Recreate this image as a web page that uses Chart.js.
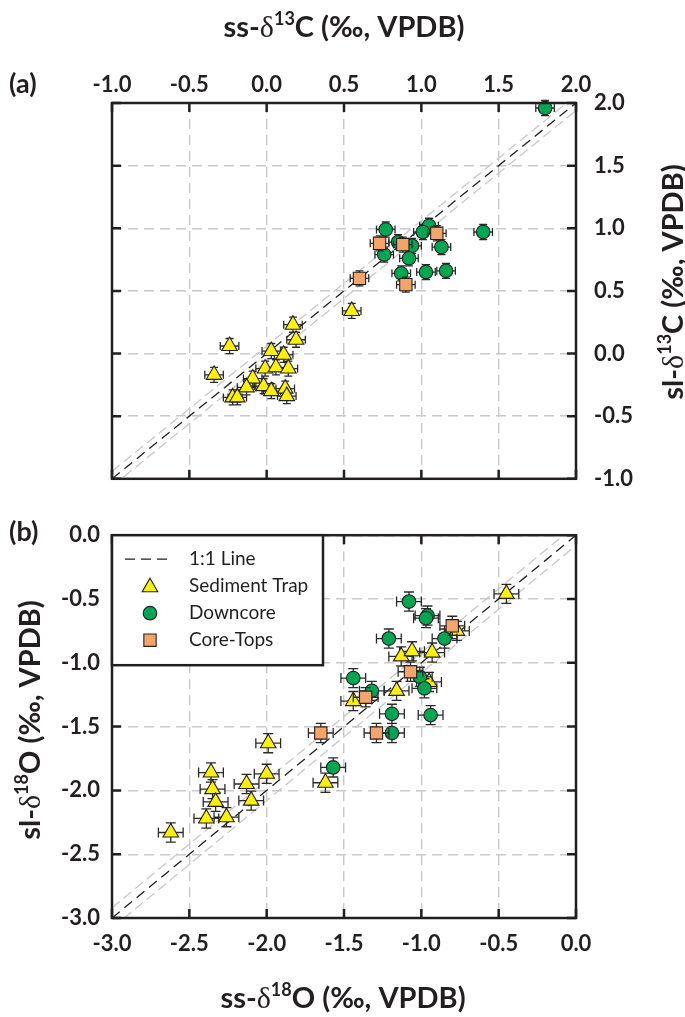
<!DOCTYPE html>
<html><head><meta charset="utf-8">
<script src="https://cdn.jsdelivr.net/npm/chart.js@4/dist/chart.umd.min.js"></script>
<style>
html,body{margin:0;padding:0;background:#fff;}
body{width:685px;height:1017px;position:relative;overflow:hidden;}
canvas{position:absolute;left:0;}
#ca{top:0;} #cb{top:510px;}
</style></head><body>
<canvas id="ca" width="685" height="510"></canvas>
<canvas id="cb" width="685" height="507"></canvas>
<script>
// ---------------- DATA ----------------
// Panel (a): carbon isotopes
const trapA_x = [0.17, 0.19, -0.24, 0.03, 0.11, -0.34, -0.01, 0.06, 0.14, -0.09, -0.13, -0.02, 0.03, 0.12, 0.13, -0.22, -0.19, 0.55];
const trapA_y = [0.23, 0.11, 0.06, 0.02, -0.01, -0.17, -0.12, -0.11, -0.12, -0.20, -0.27, -0.26, -0.30, -0.28, -0.34, -0.35, -0.35, 0.34];
const downA_x = [0.77, 0.76, 0.85, 0.94, 0.92, 0.87, 1.03, 1.16, 1.13, 1.05, 1.01, 1.40, 1.80];
const downA_y = [0.99, 0.79, 0.89, 0.86, 0.76, 0.64, 0.65, 0.66, 0.85, 1.02, 0.97, 0.97, 1.96];
const coreA_x = [0.60, 0.73, 0.88, 1.10, 0.90];
const coreA_y = [0.60, 0.88, 0.87, 0.96, 0.55];
const errA_x = 0.06, errA_y = 0.06;
const lineA_x = [-1, 2], lineA_y = [-1, 2];
const bandA_hi_y = [-0.94, 2.06], bandA_lo_y = [-1.06, 1.94];

// Panel (b): oxygen isotopes
const trapB_x = [-0.45, -0.77, -1.13, -1.06, -0.93, -0.95, -1.16, -1.44, -1.99, -2.00, -1.62, -2.36, -2.13, -2.35, -2.10, -2.33, -2.39, -2.26, -2.62];
const trapB_y = [-0.46, -0.75, -0.95, -0.91, -0.92, -1.15, -1.22, -1.30, -1.63, -1.87, -1.94, -1.86, -1.95, -1.99, -2.08, -2.09, -2.22, -2.21, -2.33];
const downB_x = [-1.08, -0.96, -0.97, -0.85, -1.21, -1.44, -1.32, -1.01, -0.98, -1.19, -0.94, -1.19, -1.57];
const downB_y = [-0.52, -0.63, -0.65, -0.81, -0.81, -1.12, -1.22, -1.11, -1.20, -1.40, -1.41, -1.55, -1.82];
const coreB_x = [-0.80, -1.07, -1.36, -1.65, -1.29];
const coreB_y = [-0.71, -1.07, -1.27, -1.55, -1.55];
const errB_x = 0.08, errB_y = 0.075;
const lineB_x = [-3, 0], lineB_y = [-3, 0];
const bandB_hi_y = [-2.92, 0.08], bandB_lo_y = [-3.08, -0.08];

// Axis ranges and labels
const rangeA = [-1, 2], rangeB = [-3, 0], tickStep = 0.5;
const legendLabels = ['1:1 Line', 'Sediment Trap', 'Downcore', 'Core-Tops'];
const titleTopA = ['ss-', '13', 'C (‰, VPDB)'];
const titleRightA = ['sl-', '13', 'C (‰, VPDB)'];
const titleBottomB = ['ss-', '18', 'O (‰, VPDB)'];
const titleLeftB = ['sl-', '18', 'O (‰, VPDB)'];
const panelLabels = ['(a)', '(b)'];

// ---------------- STYLE ----------------
const FONT = 'Lato, "Open Sans", sans-serif';
const INK = '#231f20';
const colTrap = '#fff200', colDown = '#00a651', colCore = '#f7a46a';
const GRID = '#c8c8c8';

function pts(xs, ys) { return xs.map((x, i) => ({x: x, y: ys[i]})); }
function markerDs(label, xs, ys, style, color, radius, errX, errY, cap) {
  return {
    label: label, data: pts(xs, ys),
    pointStyle: style, pointRadius: radius, pointHoverRadius: radius,
    pointBackgroundColor: color, pointBorderColor: INK, pointBorderWidth: 1.1,
    backgroundColor: color, borderColor: INK,
    showLine: false, clip: false, errX: errX, errY: errY, cap: cap, order: 0
  };
}
function lineDs(xs, ys, color, width, dash) {
  return { label: '', data: pts(xs, ys), showLine: true, pointRadius: 0, pointHoverRadius: 0,
    borderColor: color, borderWidth: width, borderDash: dash, fill: false, order: 10 };
}

const errorBarPlugin = {
  id: 'errbars',
  beforeDatasetDraw(chart, args) {
    const ds = chart.data.datasets[args.index];
    if (ds.errX == null) return;
    const ctx = chart.ctx, xs = chart.scales.x, ys = chart.scales.y;
    const cap = ds.cap;
    ctx.save();
    ctx.strokeStyle = '#2a2a2a'; ctx.lineWidth = 1.3;
    ctx.beginPath();
    ds.data.forEach(p => {
      const cx = xs.getPixelForValue(p.x), cy = ys.getPixelForValue(p.y);
      const x0 = xs.getPixelForValue(p.x - ds.errX), x1 = xs.getPixelForValue(p.x + ds.errX);
      const y0 = ys.getPixelForValue(p.y - ds.errY), y1 = ys.getPixelForValue(p.y + ds.errY);
      ctx.moveTo(x0, cy); ctx.lineTo(x1, cy);
      ctx.moveTo(cx, y0); ctx.lineTo(cx, y1);
      ctx.moveTo(x0, cy - cap); ctx.lineTo(x0, cy + cap);
      ctx.moveTo(x1, cy - cap); ctx.lineTo(x1, cy + cap);
      ctx.moveTo(cx - cap, y0); ctx.lineTo(cx + cap, y0);
      ctx.moveTo(cx - cap, y1); ctx.lineTo(cx + cap, y1);
    });
    ctx.stroke();
    ctx.restore();
  }
};

const framePlugin = {
  id: 'frame',
  afterDraw(chart) {
    const ctx = chart.ctx, a = chart.chartArea, sx = chart.scales.x, sy = chart.scales.y;
    ctx.save();
    ctx.strokeStyle = INK; ctx.lineWidth = 2.5; ctx.lineCap = 'butt';
    const L = 9;
    ctx.beginPath();
    sx.ticks.forEach(t => {
      const px = sx.getPixelForValue(t.value);
      ctx.moveTo(px, a.top); ctx.lineTo(px, a.top + L);
      ctx.moveTo(px, a.bottom); ctx.lineTo(px, a.bottom - L);
    });
    sy.ticks.forEach(t => {
      const py = sy.getPixelForValue(t.value);
      ctx.moveTo(a.left, py); ctx.lineTo(a.left + L, py);
      ctx.moveTo(a.right, py); ctx.lineTo(a.right - L, py);
    });
    ctx.stroke();
    ctx.strokeRect(a.left, a.top, a.right - a.left, a.bottom - a.top);
    ctx.restore();
  }
};

function drawRich(ctx, t, x, y, rot) {
  const parts = [
    {text: t[0], font: 'bold 29px ' + FONT, dy: 0},
    {text: 'δ', font: '30px "Liberation Serif", "DejaVu Serif", serif', dy: 0},
    {text: t[1], font: 'bold 18px ' + FONT, dy: -12},
    {text: t[2], font: 'bold 29px ' + FONT, dy: 0}
  ];
  ctx.save();
  ctx.translate(x, y);
  if (rot) ctx.rotate(rot);
  let w = 0;
  parts.forEach(p => { ctx.font = p.font; p.w = ctx.measureText(p.text).width; w += p.w; });
  let cx = -w / 2;
  ctx.textBaseline = 'alphabetic'; ctx.textAlign = 'left'; ctx.fillStyle = INK;
  parts.forEach(p => { ctx.font = p.font; ctx.fillText(p.text, cx, p.dy); cx += p.w; });
  ctx.restore();
}
function panelLabel(ctx, text, x, y) {
  ctx.save();
  ctx.font = 'bold 27px ' + FONT; ctx.fillStyle = INK;
  ctx.textAlign = 'left'; ctx.textBaseline = 'alphabetic';
  ctx.fillText(text, x, y);
  ctx.restore();
}

function drawMarker(ctx, style, color, radius, x, y) {
  const opts = {pointStyle: style, radius: radius, borderWidth: 1.1, rotation: 0};
  ctx.save();
  ctx.fillStyle = color; ctx.strokeStyle = INK; ctx.lineWidth = 1.1;
  if (Chart.helpers && Chart.helpers.drawPoint) {
    Chart.helpers.drawPoint(ctx, opts, x, y);
  } else {
    ctx.beginPath(); ctx.arc(x, y, radius, 0, Math.PI * 2); ctx.fill(); ctx.stroke();
  }
  ctx.restore();
}

function scaleOpts(pos, range, pad, fit) {
  return {
    type: 'linear', position: pos, min: range[0], max: range[1],
    ticks: { stepSize: tickStep, padding: pad, color: INK, autoSkip: false, maxRotation: 0,
      font: {family: FONT, size: 22, weight: 'bold'},
      callback: v => Number(v).toFixed(1) },
    grid: { color: GRID, lineWidth: 1.4, drawTicks: false },
    border: { display: false, dash: [10, 6] },
    afterFit: fit
  };
}

// ---------------- PANEL A ----------------
const decoA = {
  id: 'decoA',
  afterDraw(chart) {
    const ctx = chart.ctx;
    drawRich(ctx, titleTopA, 344, 37, 0);
    drawRich(ctx, titleRightA, 683, 282, -Math.PI / 2);
    panelLabel(ctx, panelLabels[0], 9, 93);
  }
};
new Chart(document.getElementById('ca'), {
  type: 'scatter',
  data: { datasets: [
    markerDs('Core-Tops', coreA_x, coreA_y, 'rect', colCore, 8.7, errA_x, errA_y, 4),
    markerDs('Downcore', downA_x, downA_y, 'circle', colDown, 6.8, errA_x, errA_y, 4),
    markerDs('Sediment Trap', trapA_x, trapA_y, 'triangle', colTrap, 9, errA_x, errA_y, 4),
    lineDs(lineA_x, lineA_y, INK, 1.3, [10, 6]),
    lineDs(lineA_x, bandA_hi_y, GRID, 1.3, [10, 5]),
    lineDs(lineA_x, bandA_lo_y, GRID, 1.3, [10, 5])
  ]},
  options: {
    responsive: false, animation: false, events: [],
    layout: { padding: { left: 112, top: 0, right: 0, bottom: 11 } },
    plugins: { legend: {display: false}, tooltip: {enabled: false} },
    scales: {
      x: scaleOpts('top', rangeA, 5, s => { s.height = 103; }),
      y: scaleOpts('right', rangeA, 18, s => { s.width = 109; })
    }
  },
  plugins: [errorBarPlugin, framePlugin, decoA]
});

// ---------------- PANEL B ----------------
const decoB = {
  id: 'decoB',
  afterDraw(chart) {
    const ctx = chart.ctx;
    drawRich(ctx, titleBottomB, 343, 498, 0);
    drawRich(ctx, titleLeftB, 40, 210, -Math.PI / 2);
    panelLabel(ctx, panelLabels[1], 9, 31);
    // legend
    const a = chart.chartArea;
    const bx = a.left, by = a.top, bw = 211, bh = 130;
    ctx.save();
    ctx.fillStyle = '#fff';
    ctx.fillRect(bx, by, bw, bh);
    ctx.strokeStyle = INK; ctx.lineWidth = 2.5;
    ctx.strokeRect(bx, by, bw, bh);
    const rows = [by + 24, by + 51, by + 78, by + 105];
    ctx.lineWidth = 1.3; ctx.setLineDash([10, 6]);
    ctx.beginPath(); ctx.moveTo(bx + 13, rows[0]); ctx.lineTo(bx + 59, rows[0]); ctx.stroke();
    ctx.setLineDash([]);
    drawMarker(ctx, 'triangle', colTrap, 9, bx + 38, rows[1] + 1);
    drawMarker(ctx, 'circle', colDown, 6.8, bx + 38, rows[2]);
    drawMarker(ctx, 'rect', colCore, 8.7, bx + 38, rows[3]);
    ctx.fillStyle = INK; ctx.font = '19px ' + FONT;
    ctx.textAlign = 'left'; ctx.textBaseline = 'middle';
    legendLabels.forEach((t, i) => ctx.fillText(t, bx + 77, rows[i]));
    ctx.restore();
  }
};
new Chart(document.getElementById('cb'), {
  type: 'scatter',
  data: { datasets: [
    markerDs('Core-Tops', coreB_x, coreB_y, 'rect', colCore, 8.7, errB_x, errB_y, 5),
    markerDs('Downcore', downB_x, downB_y, 'circle', colDown, 6.8, errB_x, errB_y, 5),
    markerDs('Sediment Trap', trapB_x, trapB_y, 'triangle', colTrap, 9, errB_x, errB_y, 5),
    lineDs(lineB_x, lineB_y, INK, 1.3, [10, 6]),
    lineDs(lineB_x, bandB_hi_y, GRID, 1.3, [10, 5]),
    lineDs(lineB_x, bandB_lo_y, GRID, 1.3, [10, 5])
  ]},
  options: {
    responsive: false, animation: false, events: [],
    layout: { padding: { left: 0, top: 12, right: 109, bottom: 0 } },
    plugins: { legend: {display: false}, tooltip: {enabled: false} },
    scales: {
      x: scaleOpts('bottom', rangeB, 13, s => { s.height = 99; }),
      y: scaleOpts('left', rangeB, 12, s => { s.width = 112; })
    }
  },
  plugins: [errorBarPlugin, framePlugin, decoB]
});
</script></body></html>
